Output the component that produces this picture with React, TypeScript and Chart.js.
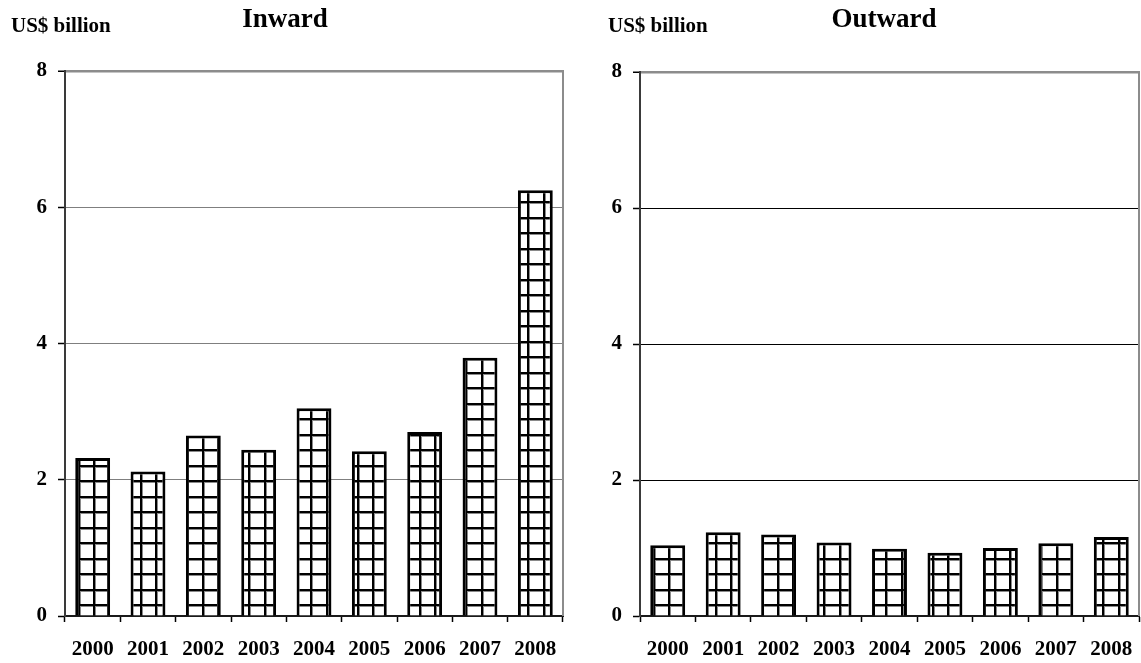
import React, { useEffect, useRef } from "react";
import { Chart, registerables } from "chart.js";

Chart.register(...registerables);

// Foreign direct investment flows, US$ billion
const years = ["2000", "2001", "2002", "2003", "2004", "2005", "2006", "2007", "2008"];
const inwardValues = [2.32, 2.12, 2.65, 2.44, 3.05, 2.42, 2.7, 3.79, 6.25];
const outwardValues = [1.04, 1.23, 1.2, 1.08, 0.99, 0.93, 1.0, 1.07, 1.16];
const yMin = 0;
const yMax = 8;
const yStep = 2;

const FONT = "'Liberation Serif', 'Times New Roman', serif";

// Square-grid hatch used to fill the bars
function makeGridPattern(): CanvasPattern | string {
  const tile = document.createElement("canvas");
  tile.width = 31;
  tile.height = 31;
  const g = tile.getContext("2d");
  if (!g) return "#fff";
  g.fillStyle = "#fff";
  g.fillRect(0, 0, 31, 31);
  g.fillStyle = "#8a8a8a";
  g.fillRect(0, 2, 31, 1);
  g.fillRect(0, 17, 31, 1);
  g.fillRect(2, 0, 1, 31);
  g.fillRect(18, 0, 1, 31);
  g.fillStyle = "#000";
  g.fillRect(0, 0, 31, 2);
  g.fillRect(0, 15, 31, 2);
  g.fillRect(0, 0, 2, 31);
  g.fillRect(16, 0, 2, 31);
  const p = g.createPattern(tile, "repeat");
  return p || "#fff";
}

// Grey frame line on the right edge of the plot area
const rightFrame = {
  id: "rightFrame",
  afterDraw(chart: any) {
    const { ctx, chartArea } = chart;
    ctx.save();
    ctx.strokeStyle = "#8c8c8c";
    ctx.lineWidth = 2;
    ctx.beginPath();
    ctx.moveTo(chartArea.right, chartArea.top - 1);
    ctx.lineTo(chartArea.right, chartArea.bottom);
    ctx.stroke();
    ctx.restore();
  },
};

type PanelProps = {
  values: number[];
  width: number;
  padTop: number;
  padRight: number;
  gridColor: string;
};

function BarPanel({ values, width, padTop, padRight, gridColor }: PanelProps) {
  const ref = useRef<HTMLCanvasElement | null>(null);

  useEffect(() => {
    const canvas = ref.current;
    if (!canvas) return;
    const tickFont = { family: FONT, size: 21, weight: "bold" as const };
    const chart = new Chart(canvas, {
      type: "bar",
      data: {
        labels: years,
        datasets: [
          {
            data: values,
            backgroundColor: makeGridPattern() as any,
            borderColor: "#000",
            borderWidth: 3,
            barPercentage: 0.9,
            categoryPercentage: 0.7,
          },
        ],
      },
      options: {
        responsive: false,
        animation: false,
        devicePixelRatio: 1,
        events: [],
        layout: { padding: { top: padTop, right: padRight, left: 0, bottom: 0 } },
        plugins: {
          legend: { display: false },
          tooltip: { enabled: false },
          title: { display: false },
        },
        scales: {
          x: {
            offset: true,
            grid: {
              offset: true,
              drawOnChartArea: false,
              drawTicks: true,
              tickLength: 6,
              tickColor: "#000",
              tickWidth: 1.5,
            },
            border: { color: "#1a1a1a", width: 2 },
            ticks: { color: "#000", font: tickFont, padding: 15, maxRotation: 0, autoSkip: false },
            afterFit: (s: any) => {
              s.height = 47;
            },
          },
          y: {
            min: yMin,
            max: yMax,
            ticks: { stepSize: yStep, color: "#000", font: tickFont, padding: 11 },
            grid: {
              color: (c: any) =>
                c.tick && c.tick.value === yMax
                  ? "#8c8c8c"
                  : c.tick && c.tick.value === yMin
                  ? "rgba(0,0,0,0)"
                  : gridColor,
              lineWidth: (c: any) => (c.tick && c.tick.value === yMax ? 2.5 : 1),
              tickColor: "#000",
              tickWidth: 1.5,
              tickLength: 7,
            },
            border: { color: "#3a3a3a", width: 2 },
            afterFit: (s: any) => {
              s.width = 65;
            },
          },
        },
      },
      plugins: [rightFrame],
    });
    return () => chart.destroy();
  }, [values, padTop, padRight, gridColor]);

  return <canvas ref={ref} width={width} height={663} style={{ display: "block" }} />;
}

const unitStyle: React.CSSProperties = {
  position: "absolute",
  top: 15,
  fontFamily: FONT,
  fontWeight: "bold",
  fontSize: 21,
  lineHeight: 1,
  whiteSpace: "nowrap",
  color: "#000",
};

const titleStyle: React.CSSProperties = {
  position: "absolute",
  top: 5,
  width: 240,
  textAlign: "center",
  fontFamily: FONT,
  fontWeight: "bold",
  fontSize: 27,
  lineHeight: 1,
  whiteSpace: "nowrap",
  color: "#000",
};

export default function App() {
  return (
    <div
      style={{
        position: "fixed",
        left: 0,
        top: 0,
        width: 1141,
        height: 663,
        background: "#fff",
        overflow: "hidden",
      }}
    >
      <div style={{ position: "absolute", left: 0, top: 0 }}>
        <BarPanel values={inwardValues} width={575} padTop={71} padRight={12} gridColor="#7f7f7f" />
      </div>
      <div style={{ position: "absolute", left: 575, top: 0 }}>
        <BarPanel values={outwardValues} width={576} padTop={72} padRight={12} gridColor="#000" />
      </div>
      <div style={{ ...unitStyle, left: 11 }}>US$ billion</div>
      <div style={{ ...titleStyle, left: 165 }}>Inward</div>
      <div style={{ ...unitStyle, left: 608 }}>US$ billion</div>
      <div style={{ ...titleStyle, left: 764 }}>Outward</div>
    </div>
  );
}
